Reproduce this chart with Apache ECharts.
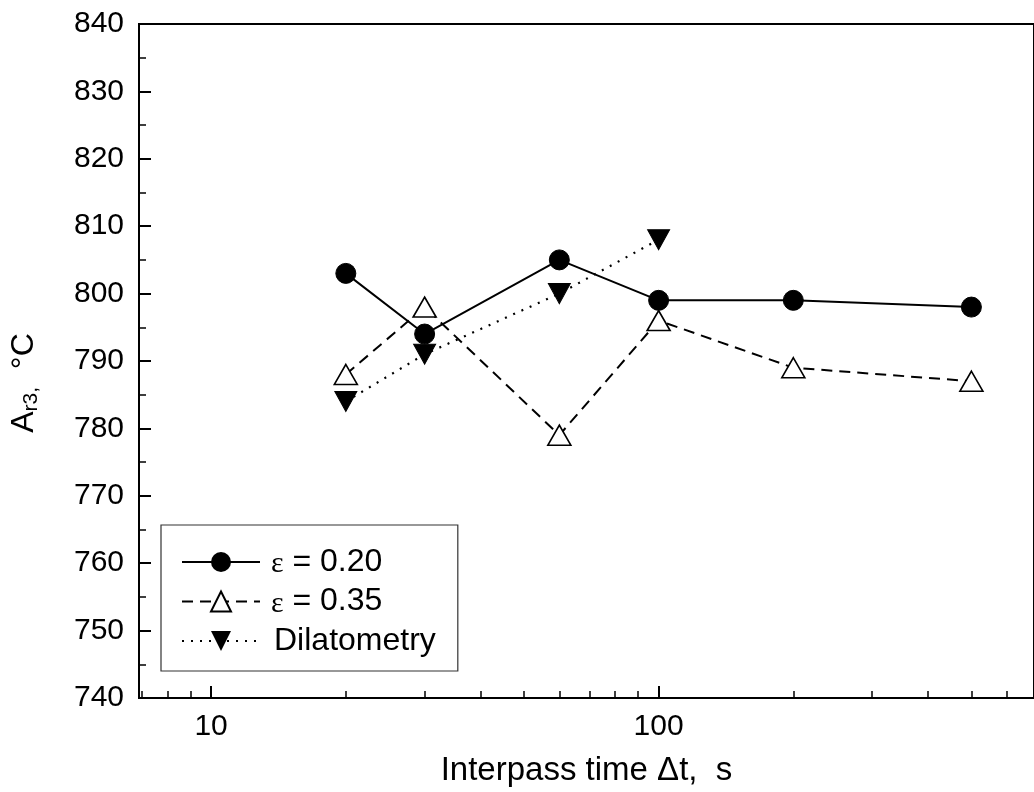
<!DOCTYPE html>
<html>
<head>
<meta charset="utf-8">
<script src="https://cdn.jsdelivr.net/npm/echarts@6/dist/echarts.min.js"></script>
<style>html,body{margin:0;padding:0;background:#fff}#c{width:1034px;height:792px}</style>
</head>
<body>
<div id="c"></div>
<script>
// ---- data ----
const timesEps = [20, 30, 60, 100, 200, 500];
const eps020 = [803, 794, 805, 799, 799, 798];
const eps035 = [788, 798, 779, 796, 789, 787];
const timesDil = [20, 30, 60, 100];
const dilatometry = [784, 791, 800, 808];
const seriesNames = ['ε = 0.20', 'ε = 0.35', 'Dilatometry'];
const xMajorTicks = [10, 100];
const xMinorTicks = [7, 8, 9, 20, 30, 40, 50, 60, 70, 80, 90, 200, 300, 400, 500, 600];
const yMin = 740, yMax = 840, yStep = 10;
const xMin = 6.9, xMax = 690;

const pairs = (xs, ys) => xs.map((x, i) => [x, ys[i]]);
const FONT = 'Liberation Sans, Arial, sans-serif';

const chart = echarts.init(document.getElementById('c'), null, {renderer: 'canvas'});
const downTri = 'path://M0,0 L10,0 L5,9 Z';

chart.setOption({
  animation: false,
  backgroundColor: '#fff',
  grid: {left: 139, right: -5, top: 24, bottom: 94, show: true, borderColor: '#000', borderWidth: 2, backgroundColor: 'transparent'},
  legend: {
    orient: 'vertical',
    left: 161, top: 525,
    padding: [21, 22, 14, 20],
    itemGap: 6,
    itemWidth: 78, itemHeight: 25,
    borderColor: '#333', borderWidth: 1.2,
    data: seriesNames,
    formatter: function (n) {
      if (n.charAt(0) === 'ε') return '{e|ε}{t|' + n.slice(1) + '}';
      return '{d|' + n + '}';
    },
    textStyle: {
      color: '#000', fontFamily: FONT, fontSize: 32,
      rich: {
        e: {fontFamily: 'Liberation Serif, Times New Roman, serif', fontSize: 30, color: '#000', padding: [5, 0, 0, 6]},
        t: {fontFamily: FONT, fontSize: 32, color: '#000'},
        d: {fontFamily: FONT, fontSize: 32, color: '#000', padding: [0, 0, 0, 9]}
      }
    }
  },
  xAxis: [{
    type: 'log', logBase: 10, min: xMin, max: xMax,
    position: 'bottom',
    name: 'Interpass time Δt,  s',
    nameLocation: 'middle', nameGap: 56,
    nameTextStyle: {fontFamily: FONT, fontSize: 33, color: '#000'},
    axisLine: {show: true, lineStyle: {color: '#000', width: 2}},
    axisTick: {show: true, inside: true, length: 12, lineStyle: {color: '#000', width: 2}, customValues: xMajorTicks},
    axisLabel: {show: true, fontFamily: FONT, fontSize: 30, color: '#000', margin: 14, customValues: xMajorTicks},
    splitLine: {show: false}, minorTick: {show: false}
  }, {
    type: 'log', logBase: 10, min: xMin, max: xMax,
    position: 'bottom',
    axisLine: {show: false},
    axisTick: {show: true, inside: true, length: 7, lineStyle: {color: '#000', width: 1.5}, customValues: xMinorTicks},
    axisLabel: {show: false},
    splitLine: {show: false}
  }],
  yAxis: {
    type: 'value', min: yMin, max: yMax, interval: yStep,
    name: 'A{s|r3,}  °C',
    nameLocation: 'middle', nameGap: 97,
    nameTextStyle: {fontFamily: FONT, fontSize: 32, color: '#000', padding: [0, 44, 0, 0],
      rich: {s: {fontFamily: FONT, fontSize: 21, color: '#000', padding: [15, 0, 0, 0]}}},
    axisLine: {show: true, lineStyle: {color: '#000', width: 2}},
    axisTick: {show: true, inside: true, length: 12, lineStyle: {color: '#000', width: 2}},
    minorTick: {show: true, splitNumber: 2, length: 7, lineStyle: {color: '#000', width: 1.5}},
    axisLabel: {fontFamily: FONT, fontSize: 30, color: '#000', margin: 15},
    splitLine: {show: false}
  },
  series: [{
    name: seriesNames[0], type: 'line', xAxisIndex: 0,
    data: pairs(timesEps, eps020),
    symbol: 'circle', symbolSize: 20,
    itemStyle: {color: '#000', borderColor: '#000'},
    lineStyle: {color: '#000', width: 2, type: 'solid'},
    z: 3
  }, {
    name: seriesNames[1], type: 'line', xAxisIndex: 0,
    data: pairs(timesEps, eps035),
    symbol: 'triangle', symbolSize: [23, 20],
    itemStyle: {color: '#fff', borderColor: '#000', borderWidth: 1.6},
    lineStyle: {color: '#000', width: 2, type: [11, 7]},
    z: 2
  }, {
    name: seriesNames[2], type: 'line', xAxisIndex: 0,
    data: pairs(timesDil, dilatometry),
    symbol: downTri, symbolSize: [22, 20], symbolKeepAspect: false,
    itemStyle: {color: '#000', borderColor: '#000'},
    lineStyle: {color: '#000', width: 2.2, type: [2, 7]},
    z: 2
  }]
});
</script>
</body>
</html>
